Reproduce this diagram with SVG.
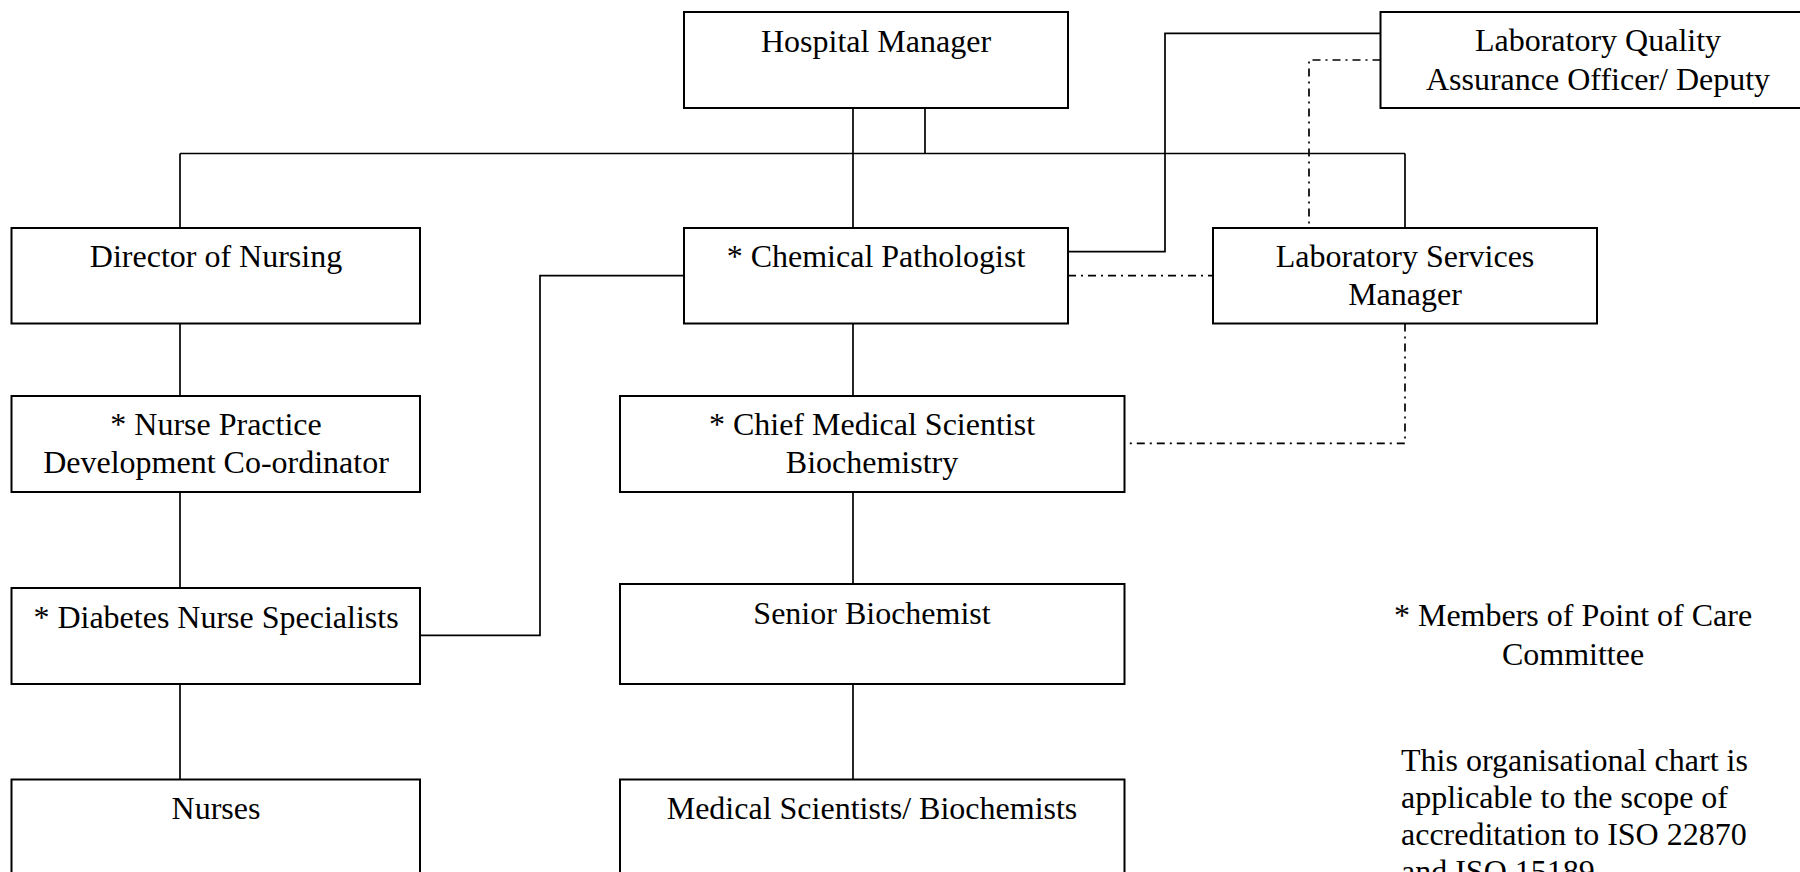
<svg xmlns="http://www.w3.org/2000/svg" width="1800" height="872" viewBox="0 0 1800 872">
<style>
.box{fill:#ffffff;stroke:#000000;stroke-width:2}
.t{font-family:"Liberation Serif","Times New Roman",serif;font-size:32px;fill:#000000;text-anchor:middle}
.tl{font-family:"Liberation Serif","Times New Roman",serif;font-size:32px;fill:#000000;text-anchor:start}
.ln{fill:none;stroke:#000000;stroke-width:1.7}
.dd{fill:none;stroke:#000000;stroke-width:1.7;stroke-dasharray:8 5 2 5}
</style>
<rect x="0" y="0" width="1800" height="872" fill="#ffffff"/>
<g id="connectors">
<path class="ln" d="M180 153.5 H1405"/>
<path class="ln" d="M180 153.5 V228"/>
<path class="ln" d="M853 108 V228"/>
<path class="ln" d="M925 105 V153.5"/>
<path class="ln" d="M1405 153.5 V228"/>
<path class="ln" d="M180 323.5 V396"/>
<path class="ln" d="M853 323.5 V396"/>
<path class="ln" d="M180 492 V588"/>
<path class="ln" d="M180 684 V779.5"/>
<path class="ln" d="M853 492 V588"/>
<path class="ln" d="M853 684 V779.5"/>
<path class="ln" d="M684 275.7 H540 V635.3 H420"/>
<path class="ln" d="M1380.5 33.3 H1165 V251.7 H1068"/>
<path class="dd" d="M1380.5 60 H1309 V228"/>
<path class="dd" d="M1068 275.7 H1213"/>
<path class="dd" d="M1405 323.5 V443.3 H1124.5"/>
</g>
<g id="hospital-manager">
<rect class="box" x="684" y="12" width="384" height="96"/>
<text class="t" x="876" y="52">Hospital Manager</text>
</g>
<g id="lab-quality">
<rect class="box" x="1380.5" y="12" width="450" height="96"/>
<text class="t" x="1598" y="51">Laboratory Quality</text>
<text class="t" x="1598" y="90">Assurance Officer/ Deputy</text>
</g>
<g id="director-nursing">
<rect class="box" x="11.5" y="228" width="408.5" height="95.5"/>
<text class="t" x="216" y="267">Director of Nursing</text>
</g>
<g id="chemical-pathologist">
<rect class="box" x="684" y="228" width="384" height="95.5"/>
<text class="t" x="876" y="267">* Chemical Pathologist</text>
</g>
<g id="lab-services">
<rect class="box" x="1213" y="228" width="384" height="95.5"/>
<text class="t" x="1405" y="267">Laboratory Services</text>
<text class="t" x="1405" y="305">Manager</text>
</g>
<g id="nurse-practice">
<rect class="box" x="11.5" y="396" width="408.5" height="96"/>
<text class="t" x="216" y="435">* Nurse Practice</text>
<text class="t" x="216" y="473">Development Co-ordinator</text>
</g>
<g id="chief-medical-scientist">
<rect class="box" x="620" y="396" width="504.5" height="96"/>
<text class="t" x="872" y="435">* Chief Medical Scientist</text>
<text class="t" x="872" y="473">Biochemistry</text>
</g>
<g id="diabetes-nurse">
<rect class="box" x="11.5" y="588" width="408.5" height="96"/>
<text class="t" x="216" y="628">* Diabetes Nurse Specialists</text>
</g>
<g id="senior-biochemist">
<rect class="box" x="620" y="584" width="504.5" height="100"/>
<text class="t" x="872" y="624">Senior Biochemist</text>
</g>
<g id="nurses">
<rect class="box" x="11.5" y="779.5" width="408.5" height="120"/>
<text class="t" x="216" y="819">Nurses</text>
</g>
<g id="medical-scientists">
<rect class="box" x="620" y="779.5" width="504.5" height="120"/>
<text class="t" x="872" y="819">Medical Scientists/ Biochemists</text>
</g>
<g id="note-members">
<text class="t" x="1573" y="626">* Members of Point of Care</text>
<text class="t" x="1573" y="665">Committee</text>
</g>
<g id="note-scope">
<text class="tl" x="1401" y="771">This organisational chart is</text>
<text class="tl" x="1401" y="808">applicable to the scope of</text>
<text class="tl" x="1401" y="845">accreditation to ISO 22870</text>
<text class="tl" x="1401" y="882">and ISO 15189</text>
</g>
</svg>
